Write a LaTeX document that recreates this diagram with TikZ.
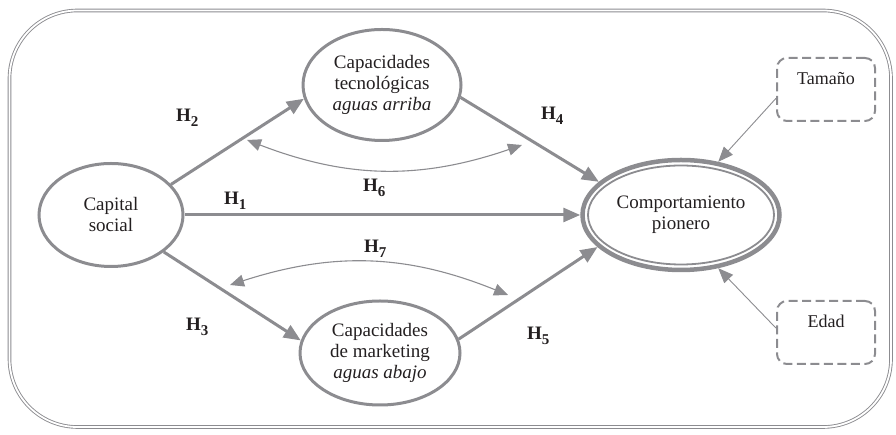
\documentclass[tikz,border=0pt]{standalone}
\usepackage{fontspec}
\setmainfont{Liberation Serif}
\usepackage{tikz}
\usetikzlibrary{shapes.geometric, arrows.meta, positioning}
\definecolor{linegray}{RGB}{140,140,144}
\definecolor{textdark}{RGB}{35,31,32}
\newcommand{\hyp}[1]{H\raisebox{-4.5pt}{\fontsize{15}{15}\selectfont #1}}

\begin{document}
\begin{tikzpicture}[
    x=1pt, y=1pt,
    font=\fontsize{19}{21}\selectfont,
    text=textdark,
    on grid,
    construct/.style={ellipse, draw=linegray, line width=3pt, inner sep=0pt, align=center},
    outcome/.style={ellipse, draw=linegray, line width=4.5pt, inner sep=0pt, align=center, minimum width=197pt, minimum height=110pt},
    innerring/.style={ellipse, draw=linegray, line width=1.8pt, inner sep=0pt, minimum width=186pt, minimum height=99pt},
    controlbox/.style={rectangle, draw=linegray, dash pattern=on 9pt off 4.5pt, line width=2pt, rounded corners=10pt, minimum width=98pt, minimum height=63pt, inner ysep=7pt, text height=20pt, text depth=29pt, font=\fontsize{18}{20}\selectfont},
    hypothesis/.style={-{Triangle[length=17pt, width=14pt]}, draw=linegray, line width=3pt},
    correlation/.style={{Triangle[length=14pt, width=12pt]}-{Triangle[length=14pt, width=12pt]}, draw=linegray, line width=1.1pt},
    effect/.style={-{Triangle[length=15pt, width=12pt]}, draw=linegray, line width=0.9pt},
    hlabel/.style={anchor=base west, inner sep=0pt, font=\fontsize{19}{21}\selectfont\bfseries},
    frame/.style={draw=linegray, double, double distance=1.8pt, line width=0.9pt, rounded corners=68pt},
]
    \useasboundingbox (0,0) rectangle (896,435);

    % Outer frame
    \draw[frame] (9.5,8) rectangle (891,424.5);

    % Constructs
    \node[construct, minimum width=144pt, minimum height=103pt] (cap) at (111,220) {Capital\\social};
    \node[construct, minimum width=158pt, minimum height=111pt, above right=130pt and 271pt of cap] (tec) {Capacidades\\tecnológicas\\\textit{aguas arriba}};
    \node[construct, minimum width=160pt, minimum height=104pt, below right=138pt and 269pt of cap] (mkt) {Capacidades\\de marketing\\\textit{aguas abajo}};
    \node[outcome, right=570pt of cap] (comp) {Comportamiento\\pionero};
    \node[innerring] (compin) at (comp.center) {};

    % Control variables
    \node[controlbox, above right=125.5pt and 145pt of comp] (tam) {Tamaño};
    \node[controlbox, below right=117.5pt and 145pt of comp] (edad) {Edad};

    % Hypotheses
    \draw[hypothesis] (cap.east) -- (comp.west);
    \draw[hypothesis] (cap.27) -- (tec.190);
    \draw[hypothesis] (cap.-35) -- (mkt.171);
    \draw[hypothesis] (tec.-9) -- (comp.158);
    \draw[hypothesis] (mkt.10) -- (comp.-159);

    % Correlations
    \coordinate (c6a) at (247,295);
    \coordinate (c6b) at (522,290);
    \coordinate (c7a) at (230,150);
    \coordinate (c7b) at (508,140);
    \draw[correlation] (c6a) to[bend right=20] (c6b);
    \draw[correlation] (c7a) to[bend left=20] (c7b);

    % Controls
    \draw[effect] (tam.190) -- (comp.55);
    \draw[effect] (edad.175) -- (comp.-55);

    % Labels
    \node[hlabel] (h1) at (224,230) {\hyp{1}};
    \node[hlabel] (h2) at (176,313) {\hyp{2}};
    \node[hlabel] (h3) at (186,104) {\hyp{3}};
    \node[hlabel] (h4) at (541,315) {\hyp{4}};
    \node[hlabel] (h5) at (527,95) {\hyp{5}};
    \node[hlabel] (h6) at (363,243) {\hyp{6}};
    \node[hlabel] (h7) at (364,182) {\hyp{7}};
\end{tikzpicture}
\end{document}
